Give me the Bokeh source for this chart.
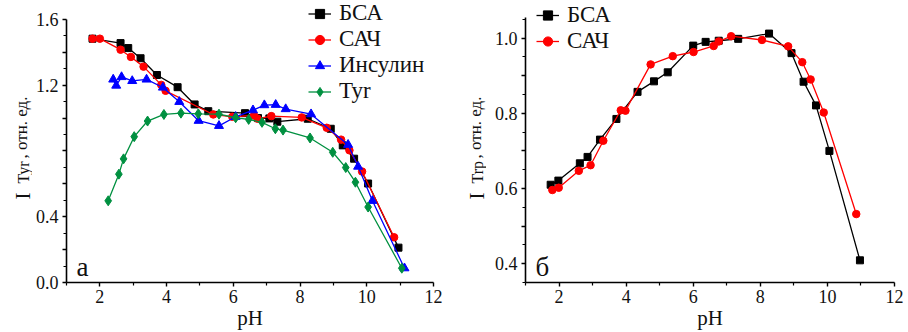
from bokeh.plotting import figure
from bokeh.layouts import row
from bokeh.models import (Range1d, FixedTicker, Legend, LegendItem, Label,
                          NumeralTickFormatter)
from bokeh.embed import file_html
from bokeh.resources import INLINE

FONT = "Liberation Serif"

# ---------------- panel a: Tyr fluorescence ----------------
bsa_ph_a = [1.78, 2.62, 2.85, 3.22, 3.71, 4.33, 4.84, 5.25, 6.35, 6.74, 7.08, 7.32,
            8.23, 8.92, 9.28, 9.62, 10.04, 10.95]
bsa_i_a = [1.483, 1.456, 1.426, 1.364, 1.262, 1.188, 1.083, 1.042, 1.030, 1.000, 0.998,
           0.978, 0.996, 0.935, 0.834, 0.753, 0.602, 0.212]

sach_ph_a = [1.78, 2.00, 2.62, 2.93, 3.31, 3.84, 3.97, 5.40, 5.97, 6.62, 6.73, 7.14,
             8.05, 8.80, 9.23, 9.48, 9.86, 10.82]
sach_i_a = [1.483, 1.483, 1.416, 1.372, 1.313, 1.202, 1.166, 1.022, 1.008, 1.016, 0.996,
            1.012, 1.004, 0.941, 0.869, 0.804, 0.675, 0.275]

ins_ph = [2.40, 2.49, 2.65, 2.97, 3.40, 3.89, 4.38, 4.96, 5.57, 6.07, 6.59, 6.93, 7.27,
          7.57, 8.33, 9.44, 9.74, 10.17, 11.13]
ins_i = [1.235, 1.198, 1.250, 1.226, 1.235, 1.186, 1.099, 0.984, 0.953, 1.008, 1.048,
         1.079, 1.081, 1.055, 1.024, 0.838, 0.705, 0.497, 0.087]

tyr_ph = [2.25, 2.57, 2.71, 3.03, 3.43, 3.92, 4.43, 4.95, 5.57, 6.07, 6.46, 6.86, 7.26,
          7.49, 8.30, 8.98, 9.37, 9.66, 10.04, 11.05]
tyr_i = [0.497, 0.659, 0.752, 0.887, 0.982, 1.022, 1.030, 1.026, 1.024, 1.002, 0.992,
         0.974, 0.935, 0.927, 0.879, 0.792, 0.699, 0.610, 0.459, 0.087]

# ---------------- panel b: Trp fluorescence ----------------
bsa_ph_b = [1.75, 1.98, 2.62, 2.85, 3.22, 3.71, 4.34, 4.83, 5.24, 6.00, 6.37, 6.76,
            7.34, 8.26, 8.93, 9.29, 9.66, 10.06, 10.97]
bsa_i_b = [0.610, 0.621, 0.667, 0.684, 0.730, 0.785, 0.857, 0.885, 0.909, 0.980, 0.990,
           0.993, 0.998, 1.012, 0.960, 0.884, 0.821, 0.700, 0.409]

sach_ph_b = [1.80, 1.99, 2.59, 2.94, 3.32, 3.84, 3.98, 4.73, 5.39, 6.01, 6.61, 6.76,
             7.13, 8.05, 8.83, 9.25, 9.50, 9.89, 10.86]
sach_i_b = [0.596, 0.602, 0.647, 0.662, 0.727, 0.808, 0.807, 0.930, 0.952, 0.963, 0.979,
            0.991, 1.005, 0.995, 0.978, 0.936, 0.890, 0.802, 0.532]

x_major = [2, 4, 6, 8, 10, 12]
x_minor = [1, 3, 5, 7, 9, 11]

ya_major = [0.0, 0.2, 0.4, 0.6, 0.8, 1.0, 1.2, 1.4, 1.6]
ya_minor = [0.1, 0.3, 0.5, 0.7, 0.9, 1.1, 1.3, 1.5]
ya_labels = {0.0: "0.0", 0.2: "", 0.4: "0.4", 0.6: "", 0.8: "", 1.0: "", 1.2: "1.2",
             1.4: "", 1.6: "1.6"}

yb_major = [0.4, 0.5, 0.6, 0.7, 0.8, 0.9, 1.0]
yb_minor = [0.35, 0.45, 0.55, 0.65, 0.75, 0.85, 0.95, 1.05]
yb_labels = {0.4: "0.4", 0.5: "", 0.6: "0.6", 0.7: "", 0.8: "0.8", 0.9: "", 1.0: "1.0"}

BLACK = "#000000"
RED = "#ff0000"
BLUE = "#0000ff"
GREEN = "#009040"
TXT = "#111111"


def style(p, y_major, y_minor, y_labels, y_bounds):
    p.xgrid.visible = False
    p.ygrid.visible = False
    p.outline_line_color = None
    p.xaxis.ticker = FixedTicker(ticks=x_major, minor_ticks=x_minor)
    p.yaxis.ticker = FixedTicker(ticks=y_major, minor_ticks=y_minor)
    p.yaxis.formatter = NumeralTickFormatter(format="0.0")
    p.yaxis.major_label_overrides = y_labels
    p.yaxis.bounds = y_bounds
    for ax in (p.xaxis[0], p.yaxis[0]):
        ax.axis_line_width = 1.6
        ax.axis_line_color = "black"
        ax.major_tick_line_width = 1.4
        ax.minor_tick_line_width = 1.2
        ax.major_tick_out = 4
        ax.major_tick_in = 0
        ax.minor_tick_out = 3
        ax.minor_tick_in = 0
        ax.major_label_text_font = FONT
        ax.major_label_text_font_size = "18px"
        ax.major_label_text_color = TXT
        ax.axis_label_text_font = FONT
        ax.axis_label_text_font_size = "21px"
        ax.axis_label_text_font_style = "normal"
        ax.axis_label_text_color = TXT
    p.xaxis.major_label_standoff = 3
    p.yaxis.major_label_standoff = 4
    p.xaxis.axis_label = "pH"
    p.xaxis.axis_label_standoff = 0


def series(p, xs, ys, color, marker, size):
    ln = p.line(xs, ys, line_color=color, line_width=1.3)
    sc = p.scatter(xs, ys, marker=marker, size=size, fill_color=color, line_color=color)
    return [ln, sc]


def vlabel(f, x, y, text, size):
    f.add_layout(Label(x=x, y=y, x_units="screen", y_units="screen", text=text,
                       angle=90, angle_units="deg", text_font=FONT,
                       text_font_size=size, text_color=TXT,
                       text_baseline="alphabetic", text_align="left"))


def label_fig(w, base, sub):
    # narrow strip that carries the rotated y-axis title "I_sub, отн. ед."
    f = figure(width=w, height=332, x_range=Range1d(0, 1), y_range=Range1d(0, 1),
               output_backend="svg", toolbar_location=None,
               min_border_left=0, min_border_right=0, min_border_top=0,
               min_border_bottom=0, x_axis_type=None, y_axis_type=None)
    f.xgrid.visible = False
    f.ygrid.visible = False
    f.outline_line_color = None
    vlabel(f, base + 1, 83, "I", "21px")
    vlabel(f, base + 2, 99, sub, "16px")
    vlabel(f, base, 124, ", отн. ед.", "17px")
    return f


lab1 = label_fig(32, 21, "Tyr")
lab2 = label_fig(34, 23, "Trp")

# ---------- left figure ----------
p1 = figure(width=420, height=332, x_range=Range1d(1, 12), y_range=Range1d(0, 1.7152),
            output_backend="svg", toolbar_location=None,
            min_border_left=31, min_border_right=19, min_border_top=0,
            min_border_bottom=49)
style(p1, ya_major, ya_minor, ya_labels, (0, 1.6))

r_bsa = series(p1, bsa_ph_a, bsa_i_a, BLACK, "square", 7)
r_sach = series(p1, sach_ph_a, sach_i_a, RED, "circle", 7.5)
r_ins = series(p1, ins_ph, ins_i, BLUE, "triangle", 9)
r_tyr = series(p1, tyr_ph, tyr_i, GREEN, "diamond", 10)

leg1 = Legend(items=[LegendItem(label="БСА", renderers=r_bsa),
                     LegendItem(label="САЧ", renderers=r_sach),
                     LegendItem(label="Инсулин", renderers=r_ins),
                     LegendItem(label="Tyr", renderers=r_tyr)],
              location=(242, 178), orientation="vertical",
              background_fill_alpha=0, border_line_color=None,
              label_text_font=FONT, label_text_font_size="23px",
              label_text_color=TXT, label_height=25, glyph_height=25,
              glyph_width=23, label_standoff=8, spacing=0, padding=0, margin=0)
p1.add_layout(leg1, "center")
p1.add_layout(Label(x=10, y=16, x_units="screen", y_units="screen", text="а",
                    text_font=FONT, text_font_size="27px", text_color=TXT,
                    text_baseline="alphabetic"))

# ---------- right figure ----------
p2 = figure(width=422, height=332, x_range=Range1d(1, 12), y_range=Range1d(0.35, 1.100),
            output_backend="svg", toolbar_location=None,
            min_border_left=39, min_border_right=14, min_border_top=0,
            min_border_bottom=49)
style(p2, yb_major, yb_minor, yb_labels, (0.35, 1.055))

q_bsa = series(p2, bsa_ph_b, bsa_i_b, BLACK, "square", 7)
q_sach = series(p2, sach_ph_b, sach_i_b, RED, "circle", 7.5)

leg2 = Legend(items=[LegendItem(label="БСА", renderers=q_bsa),
                     LegendItem(label="САЧ", renderers=q_sach)],
              location=(11, 228), orientation="vertical",
              background_fill_alpha=0, border_line_color=None,
              label_text_font=FONT, label_text_font_size="23px",
              label_text_color=TXT, label_height=26, glyph_height=26,
              glyph_width=23, label_standoff=8, spacing=0, padding=0, margin=0)
p2.add_layout(leg2, "center")
p2.add_layout(Label(x=10, y=16, x_units="screen", y_units="screen", text="б",
                    text_font=FONT, text_font_size="27px", text_color=TXT,
                    text_baseline="alphabetic"))

layout = row(lab1, p1, lab2, p2)
open("out.html", "w").write(file_html(layout, INLINE))
